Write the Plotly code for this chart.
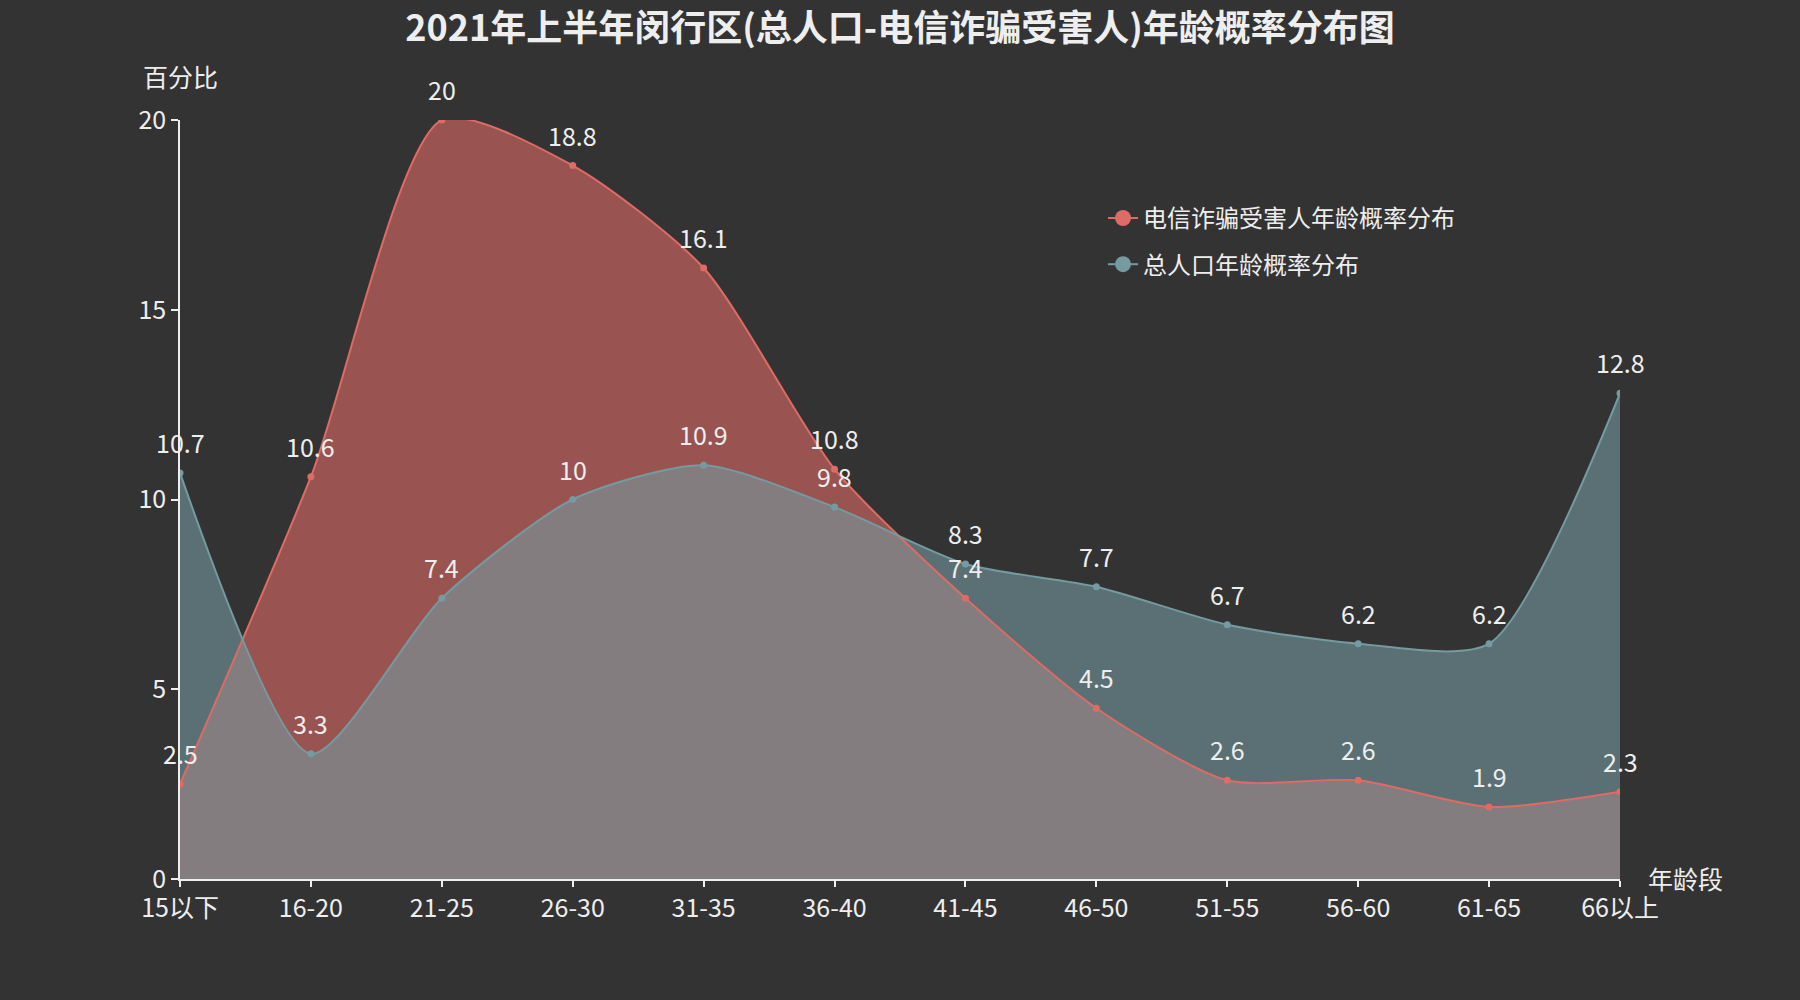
import plotly.graph_objects as go

categories = ["15以下", "16-20", "21-25", "26-30", "31-35", "36-40", "41-45",
              "46-50", "51-55", "56-60", "61-65", "66以上"]
fraud_victims = [2.5, 10.6, 20, 18.8, 16.1, 10.8, 7.4, 4.5, 2.6, 2.6, 1.9, 2.3]
population = [10.7, 3.3, 7.4, 10, 10.9, 9.8, 8.3, 7.7, 6.7, 6.2, 6.2, 12.8]
series_names = ["电信诈骗受害人年龄概率分布", "总人口年龄概率分布"]
y_ticks = [0, 5, 10, 15, 20]

RED = "#dd6b66"
TEAL = "#759aa0"
TXT = "#eeeeee"
FONT = "Microsoft YaHei, Noto Sans CJK SC, sans-serif"
SMOOTH = 0.7

xs = list(range(len(categories)))
fig = go.Figure()

# filled areas
for vals, rgba in [(fraud_victims, "rgba(221,107,102,0.6)"), (population, "rgba(117,154,160,0.6)")]:
    fig.add_trace(go.Scatter(x=xs, y=vals, mode="lines", fill="tozeroy", fillcolor=rgba,
                             line=dict(width=0, shape="spline", smoothing=SMOOTH),
                             showlegend=False, hoverinfo="skip"))
# lines + markers on top
for vals, col in [(fraud_victims, RED), (population, TEAL)]:
    fig.add_trace(go.Scatter(x=xs, y=vals, mode="lines+markers",
                             line=dict(width=2, color=col, shape="spline", smoothing=SMOOTH),
                             marker=dict(size=7, color=col), showlegend=False))
# legend entries
for i, (name, col) in enumerate(zip(series_names, [RED, TEAL])):
    fig.add_trace(go.Scatter(x=[None], y=[None], mode="lines+markers", name=name,
                             legendgroup=f"g{i}",
                             line=dict(width=2, color=col), marker=dict(size=16, color=col)))

annotations = []
for vals in [fraud_victims, population]:
    for xi, v in zip(xs, vals):
        annotations.append(dict(x=xi, y=v, xref="x", yref="y", text=f"{v:g}", showarrow=False,
                                yanchor="bottom", yshift=11, font=dict(size=25, color=TXT, family=FONT)))
annotations.append(dict(x=0, y=1, xref="paper", yref="paper", text="百分比", showarrow=False,
                        xanchor="center", yanchor="middle", yshift=44,
                        font=dict(size=25, color=TXT, family=FONT)))
annotations.append(dict(x=1, y=0, xref="paper", yref="paper", text="年龄段", showarrow=False,
                        xanchor="left", yanchor="middle", xshift=26, yshift=1,
                        font=dict(size=25, color=TXT, family=FONT)))

fig.update_layout(
    width=1800, height=1000,
    paper_bgcolor="#333333", plot_bgcolor="#333333",
    margin=dict(l=180, r=180, t=120, b=121),
    font=dict(family=FONT, color=TXT, size=25),
    title=dict(text="<b>2021年上半年闵行区(总人口-电信诈骗受害人)年龄概率分布图</b>",
               x=0.5, xanchor="center", y=0.972, yanchor="middle", yref="container",
               font=dict(size=36, color=TXT, family=FONT)),
    legend=dict(x=0.641, xanchor="left", y=0.9, yanchor="top", bgcolor="rgba(0,0,0,0)",
                font=dict(size=24, color=TXT, family=FONT), tracegroupgap=12,
                traceorder="grouped"),
    annotations=annotations,
    showlegend=True,
)
fig.update_xaxes(range=[0, len(categories) - 1], tickvals=xs, ticktext=categories,
                 showgrid=False, zeroline=False, showline=True, linecolor=TXT, linewidth=1.5,
                 ticks="outside", ticklen=6, tickcolor=TXT, tickwidth=1.5,
                 tickfont=dict(size=25, color=TXT, family=FONT))
fig.update_yaxes(range=[0, 20], tickvals=y_ticks,
                 showgrid=False, zeroline=False, showline=True, linecolor=TXT, linewidth=1.5,
                 ticks="outside", ticklen=7, tickcolor=TXT, tickwidth=1.5,
                 tickfont=dict(size=25, color=TXT, family=FONT))

fig.write_html("out.html")
